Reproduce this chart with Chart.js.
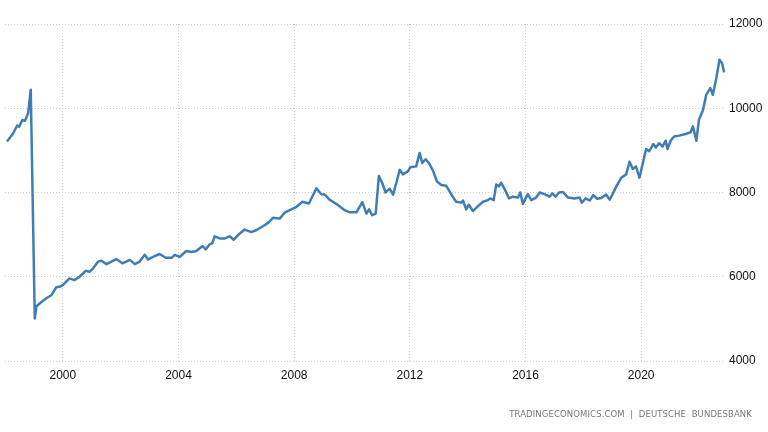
<!DOCTYPE html>
<html>
<head>
<meta charset="utf-8">
<script src="https://cdn.jsdelivr.net/npm/chart.js@4"></script>
<style>
  html, body { margin: 0; padding: 0; background: #fff; }
  #wrap { position: relative; width: 768px; height: 432px; }
  #source {
    position: absolute; right: 16px; top: 409px;
    font: 8.5px "DejaVu Sans", sans-serif; color: #777;
    letter-spacing: 0.1px; white-space: pre;
  }
</style>
</head>
<body>
<div id="wrap">
  <canvas id="lineChart" width="768" height="432"></canvas>
  <div id="source">TRADINGECONOMICS.COM  |  DEUTSCHE  BUNDESBANK</div>
</div>
<script>
// decimal years and values
const years = [
  1998.07, 1998.28, 1998.42, 1998.49, 1998.60, 1998.69, 1998.80, 1998.89, 1999.03, 1999.09,
  1999.26, 1999.43, 1999.60, 1999.77, 1999.88, 2000.00, 2000.23, 2000.40, 2000.58, 2000.79,
  2000.93, 2001.05, 2001.22, 2001.33, 2001.51, 2001.68, 2001.85, 2002.06, 2002.32, 2002.49,
  2002.66, 2002.83, 2002.95, 2003.12, 2003.35, 2003.56, 2003.76, 2003.87, 2004.04, 2004.27,
  2004.45, 2004.62, 2004.83, 2004.94, 2005.08, 2005.17, 2005.25, 2005.43, 2005.60, 2005.77,
  2005.91, 2006.06, 2006.29, 2006.52, 2006.70, 2006.92, 2007.10, 2007.27, 2007.50, 2007.67,
  2007.85, 2008.08, 2008.29, 2008.51, 2008.77, 2008.94, 2009.06, 2009.22, 2009.34, 2009.52,
  2009.75, 2009.92, 2010.15, 2010.36, 2010.50, 2010.59, 2010.70, 2010.82, 2010.93, 2011.05,
  2011.16, 2011.30, 2011.42, 2011.53, 2011.65, 2011.76, 2011.93, 2012.02, 2012.22, 2012.34,
  2012.43, 2012.55, 2012.66, 2012.80, 2012.94, 2013.09, 2013.26, 2013.43, 2013.60, 2013.78,
  2013.84, 2013.95, 2014.04, 2014.18, 2014.35, 2014.53, 2014.70, 2014.78, 2014.90, 2014.99,
  2015.08, 2015.16, 2015.28, 2015.43, 2015.57, 2015.74, 2015.82, 2015.91, 2016.08, 2016.20,
  2016.37, 2016.49, 2016.66, 2016.83, 2016.93, 2017.04, 2017.16, 2017.30, 2017.47, 2017.70,
  2017.87, 2017.95, 2018.08, 2018.22, 2018.35, 2018.48, 2018.62, 2018.79, 2018.91, 2019.02,
  2019.16, 2019.31, 2019.48, 2019.60, 2019.71, 2019.82, 2019.94, 2020.05, 2020.17, 2020.28,
  2020.42, 2020.51, 2020.62, 2020.74, 2020.85, 2020.91, 2021.02, 2021.14, 2021.31, 2021.54,
  2021.71, 2021.79, 2021.91, 2022.00, 2022.14, 2022.25, 2022.39, 2022.48, 2022.59, 2022.71,
  2022.80, 2022.87
];
const values = [
  9210, 9400, 9590, 9560, 9720, 9700, 9880, 10440, 5010, 5300,
  5400, 5490, 5560, 5750, 5760, 5800, 5960, 5920, 6000, 6140,
  6120, 6200, 6360, 6380, 6300, 6360, 6420, 6320, 6400, 6300,
  6360, 6520, 6410, 6470, 6540, 6450, 6450, 6520, 6470, 6610,
  6590, 6610, 6730, 6650, 6770, 6800, 6960, 6910, 6910, 6960,
  6880, 6990, 7120, 7060, 7110, 7200, 7280, 7400, 7380, 7520,
  7580, 7660, 7780, 7740, 8100, 7960, 7950, 7830, 7780, 7700,
  7580, 7530, 7530, 7770, 7500, 7600, 7460, 7500, 8390, 8220,
  8000, 8090, 7950, 8220, 8540, 8430, 8500, 8600, 8620, 8940,
  8700, 8790, 8700, 8520, 8260, 8180, 8160, 7960, 7780, 7760,
  7810, 7600, 7710, 7560, 7670, 7780, 7820, 7860, 7820, 8190,
  8150, 8230, 8080, 7860, 7900, 7880, 8000, 7730, 7960, 7820,
  7880, 8000, 7960, 7900, 7980, 7900, 8000, 8010, 7880, 7860,
  7880, 7760, 7860, 7810, 7940, 7850, 7870, 7950, 7830, 7970,
  8170, 8350, 8430, 8730, 8560, 8620, 8350, 8670, 9030, 8980,
  9150, 9070, 9170, 9090, 9230, 9030, 9230, 9330, 9350, 9390,
  9430, 9570, 9230, 9730, 9960, 10320, 10480, 10320, 10680, 11150,
  11070, 10850
];
const xTicks = [2000, 2004, 2008, 2012, 2016, 2020];
const yTicks = [4000, 6000, 8000, 10000, 12000];

const points = years.map((y, i) => ({ x: y, y: values[i] }));

const gridStyle = {
    color: '#cccccc',
    lineWidth: 1,
    drawTicks: false
};

let chartConfig = {
    type: 'line',
    data: {
        datasets: [{
            data: points,
            borderColor: '#3f7db5',
            borderWidth: 2.5,
            borderJoinStyle: 'round',
            pointRadius: 0,
            tension: 0,
            fill: false
        }]
    },
    options: {
        responsive: false,
        animation: false,
        layout: { padding: { top: 24, left: 5, right: 0, bottom: 0 } },
        plugins: {
            legend: { display: false },
            tooltip: { enabled: false }
        },
        scales: {
            x: {
                type: 'linear',
                min: 1998.0,
                max: 2022.9,
                border: { display: false, dash: [1, 2] },
                grid: gridStyle,
                afterBuildTicks: (axis) => { axis.ticks = xTicks.map(v => ({ value: v })); },
                afterFit: (axis) => { axis.height = 71; },
                ticks: {
                    padding: 7,
                    color: '#111',
                    font: { family: 'Liberation Sans', size: 12 },
                    maxRotation: 0,
                    callback: (v) => String(v)
                }
            },
            y: {
                position: 'right',
                min: 4000,
                max: 12000,
                border: { display: false, dash: [1, 2] },
                grid: gridStyle,
                afterBuildTicks: (axis) => { axis.ticks = yTicks.map(v => ({ value: v })); },
                afterFit: (axis) => { axis.width = 43; },
                ticks: {
                    padding: 4,
                    color: '#111',
                    font: { family: 'Liberation Sans', size: 12 },
                    callback: (v) => String(v)
                }
            }
        }
    }
};

window.onload = function() {
    const ctx = document.getElementById('lineChart').getContext('2d');
    window.myLine = new Chart(ctx, chartConfig);
};
</script>
</body>
</html>
